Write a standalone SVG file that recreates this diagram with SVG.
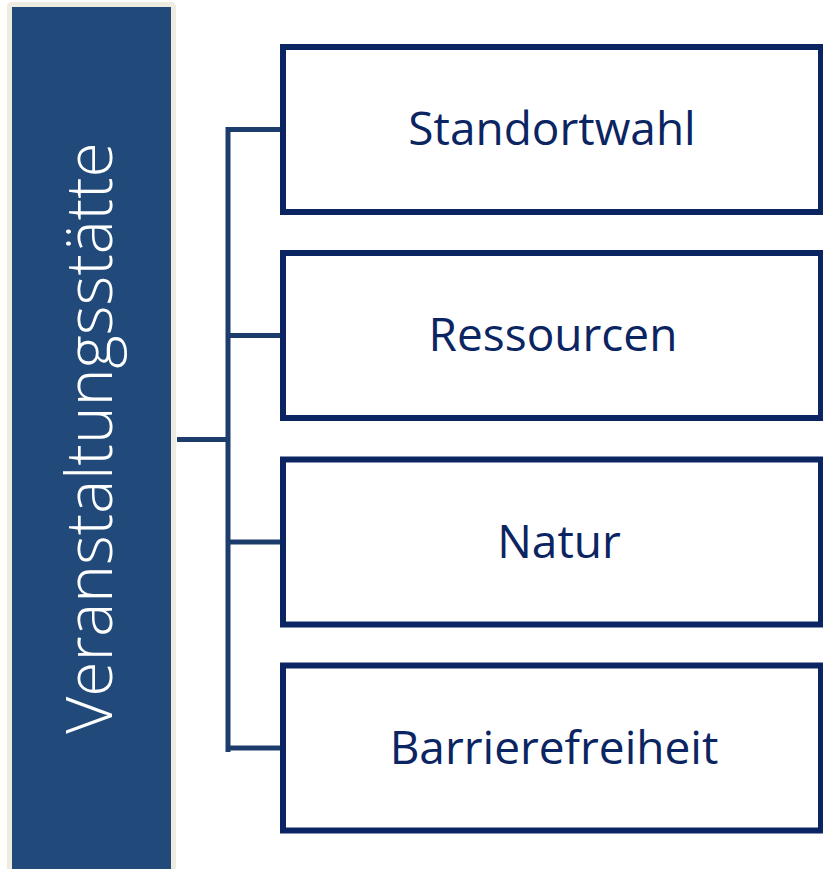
<svg xmlns="http://www.w3.org/2000/svg" width="823" height="869" viewBox="0 0 823 869">
<style>
.box{fill:#fff;stroke:#0B2462;stroke-width:6}
.lbl{font-family:"Open Sans","Noto Sans",sans-serif;font-size:46px;fill:#0B2462;text-anchor:middle}
.conn{stroke:#1C3C6B;stroke-width:5;fill:none}
</style>
<rect width="823" height="869" fill="#fff"/>
<g id="root">
<rect x="9.5" y="4.5" width="164" height="880" rx="2" fill="#214A7B" stroke="#EEEBE1" stroke-width="5"/>
<text transform="translate(112,438) rotate(-90)" font-family="'Open Sans','Noto Sans',sans-serif" font-weight="300" font-size="64" fill="#fff" text-anchor="middle">Veranstaltungsstätte</text>
</g>
<g id="connectors">
<path class="conn" d="M177 439.5H228M228 127V752M228 129.5H283M228 335.5H283M228 542H283M228 748H283"/>
</g>
<g id="n1"><rect class="box" x="283" y="47" width="538" height="165"/><text class="lbl" x="552" y="145">Standortwahl</text></g>
<g id="n2"><rect class="box" x="283" y="253" width="538" height="165"/><text class="lbl" x="553" y="351">Ressourcen</text></g>
<g id="n3"><rect class="box" x="283" y="459.5" width="538" height="165"/><text class="lbl" x="559" y="557.5">Natur</text></g>
<g id="n4"><rect class="box" x="283" y="665.5" width="538" height="165"/><text class="lbl" x="554" y="763.5">Barrierefreiheit</text></g>
</svg>
